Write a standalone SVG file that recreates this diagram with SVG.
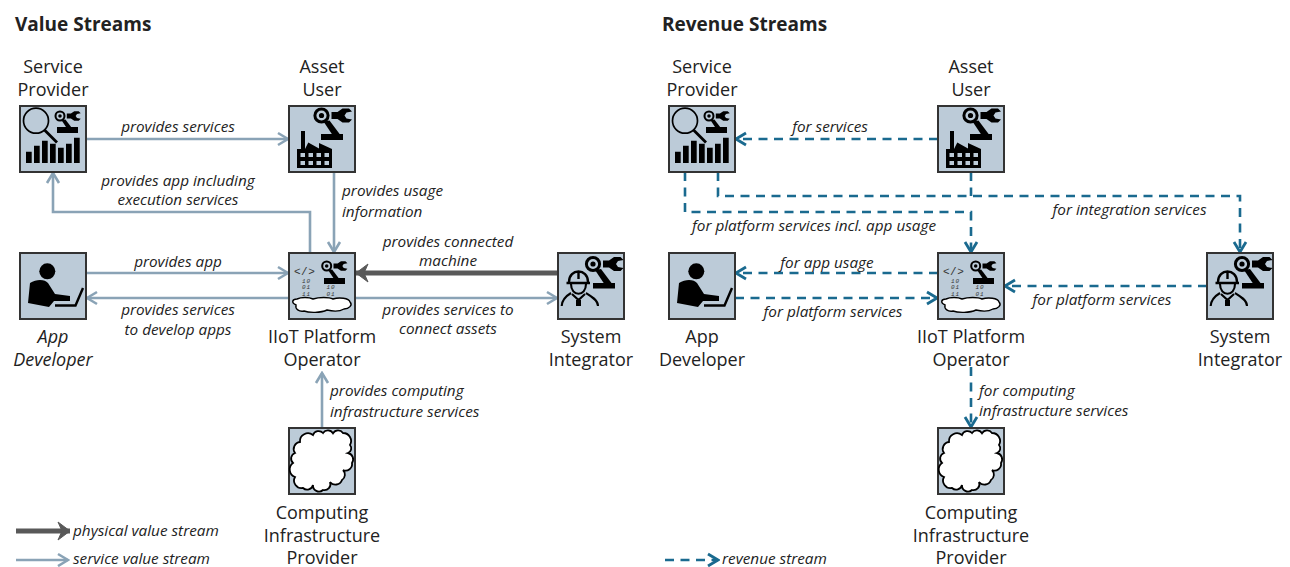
<svg xmlns="http://www.w3.org/2000/svg" xmlns:xlink="http://www.w3.org/1999/xlink" width="1290" height="567" viewBox="0 0 1290 567">
<style>
text{font-family:"Open Sans","Noto Sans","Liberation Sans",sans-serif;fill:#222}
.t{font-size:19px;font-weight:700}
.n{font-size:18px;text-anchor:middle}
.ni{font-size:18px;text-anchor:middle;font-style:italic}
.e{font-size:15.3px;font-style:italic;text-anchor:middle}
.l{font-size:15.3px;font-style:italic}
.box{fill:#bccbd8;stroke:#333;stroke-width:2}
.sv{fill:none;stroke:#8aa3b6;stroke-width:2.6;marker-end:url(#as)}
.ph{fill:none;stroke:#595959;stroke-width:5;marker-end:url(#ap)}
.rv{fill:none;stroke:#1a6a8f;stroke-width:2.6;stroke-dasharray:9 6.5}
.ra{marker-end:url(#ar)}
.bits{font-family:"Liberation Mono",monospace;font-size:6px;font-style:italic;fill:#333;letter-spacing:1px}
</style>
<defs>
<marker id="as" markerUnits="userSpaceOnUse" markerWidth="14" markerHeight="16" refX="12" refY="8" orient="auto"><path d="M2 2L12 8L2 14" fill="none" stroke="#8aa3b6" stroke-width="2.6"/></marker>
<marker id="ap" markerUnits="userSpaceOnUse" markerWidth="18" markerHeight="20" refX="15" refY="10" orient="auto"><path d="M3 1L15 10L3 19L7 10Z" fill="#595959" stroke="#595959" stroke-width="1"/></marker>
<marker id="ar" markerUnits="userSpaceOnUse" markerWidth="14" markerHeight="16" refX="12" refY="8" orient="auto"><path d="M2 2L12 8L2 14" fill="none" stroke="#1a6a8f" stroke-width="2.8"/></marker>
<g id="robot">
<circle cx="0" cy="0" r="6.6" fill="none" stroke="#000" stroke-width="3"/><circle cx="0" cy="0" r="2.6" fill="#000"/>
<path d="M10-3.500H16L21-7H27.500L30.500-4L25-3L23 0L25 3L30.500 4L27.500 7H21L16 3.500H10Z" fill="#000"/>
<path d="M2 6L12 21H20L8 5Z" fill="#000"/>
</g>
<path id="cloud" d="M11 14A8 8 0 0 1 24 7A6 6 0 0 1 34 5A6 6 0 0 1 44 5.300A6 6 0 0 1 54 5A8 8 0 0 1 61 17A5 5 0 0 1 59 25A6.500 6.500 0 0 1 63 35A6.500 6.500 0 0 1 54 42A6.500 6.500 0 0 1 53 52A7 7 0 0 1 41 54A6 6 0 0 1 34 62A6 6 0 0 1 24 57A6 6 0 0 1 14 60A7.500 7.500 0 0 1 6 49A8 8 0 0 1 4 35A6 6 0 0 1 6 25A7 7 0 0 1 11 14Z" fill="#fff" stroke="#000" stroke-width="1.8"/>
<g id="ic-sp">
<circle cx="16" cy="14.700" r="12.500" fill="none" stroke="#000" stroke-width="1.7"/>
<path d="M24.500 24L37 36.500" stroke="#000" stroke-width="2.8"/>
<path d="M6 45.700h5.700V57H6zM14 39.700h5.700V57H14zM22 34.700h5.700V57H22zM30 37.700h5.700V57H30zM38 41.700h5.700V57H38zM46 37.700h5.700V57H46zM54 31.700h5.700V57H54z" fill="#000"/>
<use xlink:href="#robot" href="#robot" transform="translate(40 10) scale(.68)"/>
<rect x="37" y="21" width="21" height="6" fill="#000"/>
</g>
<g id="ic-au">
<use xlink:href="#robot" href="#robot" transform="translate(32.500 9.500)"/>
<rect x="32" y="28" width="22" height="6" fill="#000"/>
<path fill-rule="evenodd" d="M12 25h4V43L19.300 36.500L30 42.500V37L43 43V62H8V43H12ZM11.500 47v4h4.500v-4zM19.500 47v4h4.500v-4zM27.500 47v4h4.500v-4zM35.500 47v4h4.500v-4zM11.500 55v4h4.500v-4zM19.500 55v4h4.500v-4zM27.500 55v4h4.500v-4zM35.500 55v4h4.500v-4z" fill="#000"/>
</g>
<g id="ic-dev">
<circle cx="27.300" cy="18.300" r="8" fill="#000"/>
<path d="M10 30C13 28 17 27 20 27C24 27 26 28 28 30L35 41L50 43V48H34L29 54L8 50Z" fill="#000"/>
<path d="M35 52.500H55.500L63 35" fill="none" stroke="#000" stroke-width="2.400"/>
</g>
<g id="ic-io">
<use xlink:href="#robot" href="#robot" transform="translate(37.700 13) scale(.68)"/>
<rect x="35" y="25" width="21" height="6" fill="#000"/>
<text x="5" y="22" style="font-family:'Liberation Mono',monospace;font-size:11px;fill:#333;letter-spacing:.5px">&lt;/&gt;</text>
<text class="bits" x="13" y="30">10</text><text class="bits" x="13" y="36">01</text><text class="bits" x="13" y="42.500">11</text>
<text class="bits" x="37.500" y="36">10</text><text class="bits" x="37.500" y="43">01</text>
<path d="M7 52C2 50 3 46 8 46C12 44 20 44 24 46C30 44 40 44 44 46C50 44 60 45 61 49C64 52 60 56 55 56C50 59 42 58 38 57C32 60 20 60 15 58C10 59 6 56 7 52Z" fill="#fff" stroke="#000" stroke-width="1.400"/>
</g>
<g id="ic-si">
<use xlink:href="#robot" href="#robot" transform="translate(35 11)"/>
<rect x="35" y="30" width="22" height="5.500" fill="#000"/>
<path d="M8.500 30H32M11 29C11 15 30 15 30 29M20.500 19V26" fill="none" stroke="#000" stroke-width="2.400"/>
<path d="M13 31C13 44 28 44 28 31M13 40C8 43 4 47 3.700 53M28 40C33 43 40 47 40 53M14 41L20.500 47L27 41" fill="none" stroke="#000" stroke-width="2.100"/>
<path d="M18 47h5v6h-5z" fill="#000"/>
</g>
</defs>
<text class="t" x="15" y="31">Value Streams</text>
<text class="t" x="662" y="31">Revenue Streams</text>

<g id="connectors">
<path class="sv" d="M86 139H288"/>
<path class="sv" d="M310 253V212H53V173"/>
<path class="sv" d="M334 172V252"/>
<path class="sv" d="M86 273H288"/>
<path class="sv" d="M289 298H87"/>
<path class="ph" d="M558 273H356"/>
<path class="sv" d="M355 298H557"/>
<path class="sv" d="M322 428V373"/>
<path class="sv" d="M16 560H68"/>
<path class="ph" d="M16 531H70"/>
<path class="rv ra" d="M938 139H736"/>
<path class="rv ra" d="M685 172V212H971V252"/>
<path class="rv ra" d="M718 172V196H1240V252"/>
<path class="rv" d="M971 172V196"/>
<path class="rv ra" d="M938 273H736"/>
<path class="rv ra" d="M735 298H937"/>
<path class="rv ra" d="M1207 286H1005"/>
<path class="rv ra" d="M971 367V427"/>
<path class="rv ra" d="M665 560H718"/>
</g>

<g id="edge-labels">
<text class="e" x="178" y="132">provides services</text>
<text class="e" x="178" y="186">provides app including</text>
<text class="e" x="178" y="205">execution services</text>
<text x="342" y="196" class="l">provides usage</text>
<text x="342" y="217" class="l">information</text>
<text class="e" x="178" y="267">provides app</text>
<text class="e" x="178" y="315">provides services</text>
<text class="e" x="178" y="335">to develop apps</text>
<text class="e" x="448" y="247">provides connected</text>
<text class="e" x="448" y="266">machine</text>
<text class="e" x="448" y="315">provides services to</text>
<text class="e" x="448" y="334">connect assets</text>
<text x="330" y="396" class="l">provides computing</text>
<text x="330" y="417" class="l">infrastructure services</text>
<text class="l" x="73" y="536">physical value stream</text>
<text class="l" x="73" y="564">service value stream</text>
<text class="e" x="830" y="132">for services</text>
<text class="e" x="814" y="231">for platform services incl. app usage</text>
<text class="e" x="1129.500" y="215">for integration services</text>
<text class="e" x="827" y="268">for app usage</text>
<text class="e" x="833" y="317">for platform services</text>
<text class="e" x="1102" y="305">for platform services</text>
<text x="979" y="396" class="l">for computing</text>
<text x="979" y="416" class="l">infrastructure services</text>
<text class="l" x="722" y="564">revenue stream</text>
</g>

<g id="vs-service-provider"><rect class="box" x="20" y="106" width="66" height="66"/><use xlink:href="#ic-sp" href="#ic-sp" x="20" y="106"/><text class="n" x="53" y="73">Service</text><text class="n" x="53" y="96">Provider</text></g>
<g id="vs-asset-user"><rect class="box" x="289" y="106" width="66" height="66"/><use xlink:href="#ic-au" href="#ic-au" x="289" y="106"/><text class="n" x="322" y="73">Asset</text><text class="n" x="322" y="96">User</text></g>
<g id="vs-app-developer"><rect class="box" x="20" y="253" width="66" height="66"/><use xlink:href="#ic-dev" href="#ic-dev" x="20" y="253"/><text class="ni" x="53" y="343">App</text><text class="ni" x="53" y="366">Developer</text></g>
<g id="vs-iiot"><rect class="box" x="289" y="253" width="66" height="66"/><use xlink:href="#ic-io" href="#ic-io" x="289" y="253"/><text class="n" x="322" y="343">IIoT Platform</text><text class="n" x="322" y="366">Operator</text></g>
<g id="vs-system-integrator"><rect class="box" x="558" y="253" width="66" height="66"/><use xlink:href="#ic-si" href="#ic-si" x="558" y="253"/><text class="n" x="591" y="343">System</text><text class="n" x="591" y="366">Integrator</text></g>
<g id="vs-computing"><rect class="box" x="289" y="428" width="66" height="66"/><use xlink:href="#cloud" href="#cloud" x="289" y="428"/><text class="n" x="322" y="519">Computing</text><text class="n" x="322" y="542">Infrastructure</text><text class="n" x="322" y="564">Provider</text></g>

<g id="rs-service-provider"><rect class="box" x="669" y="106" width="66" height="66"/><use xlink:href="#ic-sp" href="#ic-sp" x="669" y="106"/><text class="n" x="702" y="73">Service</text><text class="n" x="702" y="96">Provider</text></g>
<g id="rs-asset-user"><rect class="box" x="938" y="106" width="66" height="66"/><use xlink:href="#ic-au" href="#ic-au" x="938" y="106"/><text class="n" x="971" y="73">Asset</text><text class="n" x="971" y="96">User</text></g>
<g id="rs-app-developer"><rect class="box" x="669" y="253" width="66" height="66"/><use xlink:href="#ic-dev" href="#ic-dev" x="669" y="253"/><text class="n" x="702" y="343">App</text><text class="n" x="702" y="366">Developer</text></g>
<g id="rs-iiot"><rect class="box" x="938" y="253" width="66" height="66"/><use xlink:href="#ic-io" href="#ic-io" x="938" y="253"/><text class="n" x="971" y="343">IIoT Platform</text><text class="n" x="971" y="366">Operator</text></g>
<g id="rs-system-integrator"><rect class="box" x="1207" y="253" width="66" height="66"/><use xlink:href="#ic-si" href="#ic-si" x="1207" y="253"/><text class="n" x="1240" y="343">System</text><text class="n" x="1240" y="366">Integrator</text></g>
<g id="rs-computing"><rect class="box" x="938" y="428" width="66" height="66"/><use xlink:href="#cloud" href="#cloud" x="938" y="428"/><text class="n" x="971" y="519">Computing</text><text class="n" x="971" y="542">Infrastructure</text><text class="n" x="971" y="564">Provider</text></g>
</svg>
